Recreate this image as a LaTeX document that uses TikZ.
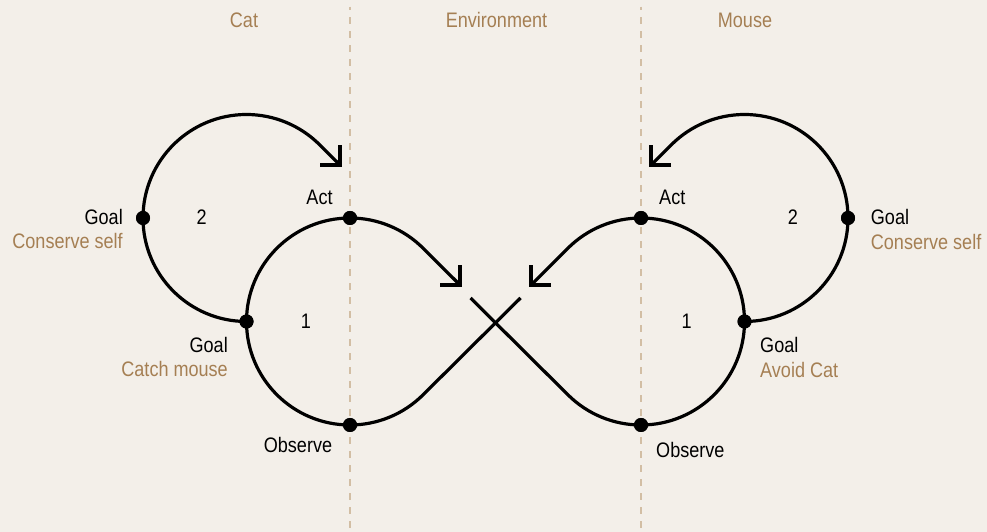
\documentclass[tikz,border=0pt]{standalone}
\usepackage{fontspec}
\setmainfont{Liberation Sans}[FakeStretch=0.86]
\definecolor{bg}{HTML}{F3EFE9}
\definecolor{brown}{HTML}{A57F53}
\definecolor{divider}{HTML}{D2BEA4}
\definecolor{ink}{HTML}{000000}
\tikzset{
  loopline/.style={line width=3.2pt, draw=ink, line cap=butt, line join=miter},
  dot/.style={circle, fill=ink, inner sep=0pt, minimum size=14pt},
  lbl/.style={text=ink, inner sep=0pt, font=\fontsize{21}{24}\selectfont},
  sub/.style={text=brown, inner sep=0pt, font=\fontsize{21}{24}\selectfont},
  divline/.style={draw=divider, line width=1.8pt, dash pattern=on 7pt off 7pt, dash phase=3.4pt},
}
\begin{document}
\begin{tikzpicture}[x=1pt,y=1pt]
\fill[bg] (0,0) rectangle (987,532);
\useasboundingbox (0,0) rectangle (987,532);

% dividers
\coordinate (d1top) at (350,525.3);
\coordinate (d1bot) at (350,0);
\coordinate (d2top) at (641,525.3);
\coordinate (d2bot) at (641,0);
\draw[divline] (d1top) -- (d1bot);
\draw[divline] (d2top) -- (d2bot);

% titles
\node[sub, anchor=base] (tcat) at (244,504) {Cat};
\node[sub, anchor=base] (tenv) at (496.5,504) {Environment};
\node[sub, anchor=base] (tmouse) at (745,504) {Mouse};

% dots
\node[dot] (actL) at (350,314) {};
\node[dot] (obsL) at (350,107) {};
\node[dot] (goalL1) at (246.5,210.5) {};
\node[dot] (goalL2) at (143,314) {};
\node[dot] (actR) at (641,314) {};
\node[dot] (obsR) at (641,107) {};
\node[dot] (goalR1) at (744.5,210.5) {};
\node[dot] (goalR2) at (848,314) {};

% tips and ends
\coordinate (tipL2) at (340,367);
\coordinate (tipR2) at (651,367);
\coordinate (tipLc) at (460,247);
\coordinate (tipRc) at (531,247);
\coordinate (endL) at (520.5,234);
\coordinate (endR) at (470.5,234);

% left figure
\draw[loopline] (actL.center) arc[start angle=90, end angle=270, radius=103.5];
\draw[loopline] (actL.center) arc[start angle=90, end angle=45, radius=103.5] -- (tipLc);
\draw[loopline] (tipLc) ++(-20,0) -- (tipLc) -- ++(0,20);
\draw[loopline] (obsL.center) arc[start angle=-90, end angle=-45, radius=103.5] -- (endL);
\draw[loopline] (goalL1.center) arc[start angle=270, end angle=45, radius=103.5] -- (tipL2);
\draw[loopline] (tipL2) ++(-20,0) -- (tipL2) -- ++(0,20);

% right figure
\draw[loopline] (actR.center) arc[start angle=90, end angle=-90, radius=103.5];
\draw[loopline] (actR.center) arc[start angle=90, end angle=135, radius=103.5] -- (tipRc);
\draw[loopline] (tipRc) ++(20,0) -- (tipRc) -- ++(0,20);
\draw[loopline] (obsR.center) arc[start angle=-90, end angle=-135, radius=103.5] -- (endR);
\draw[loopline] (goalR1.center) arc[start angle=-90, end angle=135, radius=103.5] -- (tipR2);
\draw[loopline] (tipR2) ++(20,0) -- (tipR2) -- ++(0,20);

% redraw dots on top
\foreach \n in {actL,obsL,goalL1,goalL2,actR,obsR,goalR1,goalR2}
  \fill[ink] (\n.center) circle (7pt);

% left labels
\node[lbl, anchor=base east] (lgoal2) at (123,307) {Goal};
\node[sub, anchor=base east] (lcons) at (123,283) {Conserve self};
\node[lbl, anchor=base] (ltwo) at (201.7,307) {2};
\node[lbl, anchor=base] (lact) at (319.5,327.3) {Act};
\node[lbl, anchor=base] (lone) at (306,203.3) {1};
\node[lbl, anchor=base east] (lgoal1) at (228,179) {Goal};
\node[sub, anchor=base east] (lcatch) at (228,155) {Catch mouse};
\node[lbl, anchor=base] (lobs) at (298,79) {Observe};

% right labels
\node[lbl, anchor=base west] (ract) at (659,327.3) {Act};
\node[lbl, anchor=base] (rtwo) at (793,307) {2};
\node[lbl, anchor=base west] (rgoal2) at (870.7,307) {Goal};
\node[sub, anchor=base west] (rcons) at (870.7,282.3) {Conserve self};
\node[lbl, anchor=base] (rone) at (686.7,203.3) {1};
\node[lbl, anchor=base west] (rgoal1) at (760,179) {Goal};
\node[sub, anchor=base west] (ravoid) at (760,154) {Avoid Cat};
\node[lbl, anchor=base west] (robs) at (656,74.3) {Observe};
\end{tikzpicture}
\end{document}
